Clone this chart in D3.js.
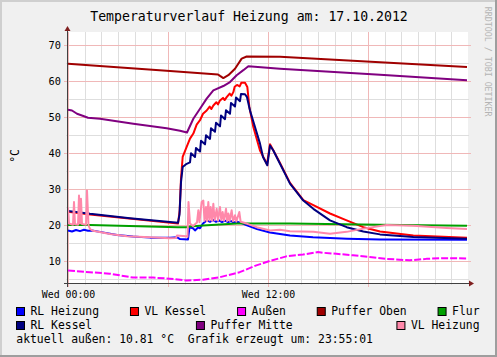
<!DOCTYPE html>
<html><head><meta charset="utf-8">
<script src="https://cdn.jsdelivr.net/npm/d3@7"></script>
<style>html,body{margin:0;padding:0;background:#f0f0f0;}svg{display:block;}text{font-family:"DejaVu Sans Mono",monospace;}</style>
</head><body>
<svg id="c" width="497" height="357"></svg>
<script>
// ---------- data ----------
const chartTitle = "Temperaturverlauf Heizung am: 17.10.2012";
const unitLabel = "°C";
const watermark = "RRDTOOL / TOBI OETIKER";
const yMajorTicks = [10, 20, 30, 40, 50, 60, 70];
const yMinorTicks = [5, 15, 25, 35, 45, 55, 65];
const xLabelHours = [0, 12];
const xLabelTexts = ["Wed 00:00", "Wed 12:00"];
const aussenAktuell = "10.81";
const erzeugtUm = "23:55:01";

const seriesNames = ["RL Heizung", "VL Kessel", "Außen", "Puffer Oben", "Flur", "RL Kessel", "Puffer Mitte", "VL Heizung"];
const seriesColors = ["#0000FF", "#FF0000", "#FF00FF", "#A00000", "#00A000", "#000080", "#800080", "#FF88AA"];

// [hour, °C]
const rlHeizung = [[0,18.6],[0.24,18.3],[0.48,18.7],[0.72,18.4],[0.96,18.8],[1.2,18.5],[1.44,18.6],[1.92,18.2],[2.94,17.3],[3.9,16.9],[4.92,16.6],[6.12,16.6],[6.54,16.7],[6.72,16.2],[7.2,16.1],[7.29,19.5],[7.5,19.2],[7.62,18.6],[7.8,19.4],[7.92,19.2],[8.1,20.5],[8.34,21.4],[8.52,21.0],[8.7,21.5],[8.88,21.0],[9.06,21.4],[9.24,20.9],[9.42,21.3],[9.6,20.9],[9.78,21.2],[9.96,20.8],[10.14,21.0],[10.44,20.6],[10.74,20.0],[11.34,19.0],[12.12,18.0],[13.32,17.2],[14.7,16.7],[16.74,16.3],[18.72,16.1],[23.94,16.0]];
const vlKessel = [[0,23.8],[1.32,23.0],[6.6,20.5],[6.7,24],[6.78,33],[6.88,39.0],[7.12,41.8],[7.32,44.1],[7.52,45.5],[7.72,48.0],[7.92,49.2],[8.1,51.0],[8.32,51.9],[8.5,53.0],[8.6,52.3],[8.72,53.3],[8.9,54.2],[9.0,53.6],[9.12,54.7],[9.3,55.4],[9.4,54.8],[9.52,55.6],[9.7,56.6],[9.8,56.0],[9.92,57.0],[10.0,58.5],[10.14,59.0],[10.3,58.6],[10.4,59.6],[10.62,59.6],[10.76,58.4],[10.88,52.9],[11.12,47.3],[11.52,40.8],[11.82,38.1],[11.94,36.9],[12.12,42.5],[12.3,41.0],[12.72,37.3],[13.32,31.8],[14.12,27.0],[14.72,25.6],[15.72,23.3],[16.72,21.4],[17.72,19.5],[18.72,18.3],[20.72,17.2],[23.94,16.6]];
const aussen = [[0,7.5],[1.3,7.0],[2.5,6.6],[3.9,5.5],[5.1,5.5],[6.1,5.2],[7.1,4.7],[8.1,4.9],[9.1,5.6],[10.3,7.0],[11.3,8.9],[12.1,10.1],[13.1,11.4],[14.1,11.9],[15.0,12.6],[15.3,12.4],[16.1,12.1],[17.1,11.7],[18.1,11.2],[19.1,10.7],[20.5,10.3],[21.5,10.7],[22.5,10.9],[23.94,10.81]];
const pufferOben = [[0,64.9],[6.12,62.9],[9.0,61.9],[9.12,61.5],[9.32,60.9],[9.62,61.7],[10.02,63.5],[10.42,66.3],[10.72,66.9],[12.72,66.8],[18.72,65.3],[23.94,64.0]];
const flur = [[0,20.1],[1.32,20.1],[6.6,19.5],[7.1,19.5],[7.32,19.7],[8.1,20.0],[10.14,20.5],[13.32,20.5],[18.72,20.2],[23.94,19.9]];
const rlKessel = [[0,24.0],[1.32,23.2],[3.72,22.0],[6.6,20.7],[6.69,23],[6.78,32],[6.88,36.2],[7.12,37.1],[7.32,37.5],[7.38,40.0],[7.62,39.0],[7.68,41.5],[7.92,40.5],[7.98,43.5],[8.22,42.5],[8.28,45.0],[8.52,44.0],[8.58,47.0],[8.82,46.0],[8.88,48.5],[9.12,47.5],[9.18,50.5],[9.42,49.5],[9.48,52.0],[9.72,51.0],[9.78,54.0],[10.02,53.0],[10.08,55.5],[10.32,54.5],[10.38,56.5],[10.62,56.4],[10.74,55.6],[10.92,51.9],[11.22,47.3],[11.52,42.7],[11.7,39.0],[11.96,36.7],[12.12,42.2],[12.32,40.8],[12.72,37.1],[13.32,31.6],[14.12,26.9],[14.72,24.6],[15.72,21.4],[16.72,19.5],[17.72,18.3],[18.72,17.5],[20.72,16.8],[23.94,16.3]];
const pufferMitte = [[0,52.1],[0.24,51.9],[0.54,51.0],[0.96,50.3],[1.2,49.9],[1.92,49.6],[3.92,48.2],[5.92,47.0],[6.72,46.3],[7.14,45.8],[7.52,49.6],[7.92,52.4],[8.32,55.2],[8.72,57.5],[9.32,58.7],[9.72,59.8],[10.12,61.7],[10.52,63.1],[10.82,64.2],[12.72,63.5],[18.72,61.8],[23.94,60.3]];
const vlHeizung = [[0,25.0],[0.06,20.5],[0.3,20.2],[0.36,26.5],[0.42,20.3],[0.6,20.2],[0.66,28.3],[0.72,20.5],[0.78,27.4],[0.84,20.4],[1.08,20.2],[1.14,29.7],[1.23,20.0],[1.32,19.0],[1.5,18.5],[2.52,17.6],[3.54,17.0],[4.92,16.7],[6.12,16.4],[6.48,16.5],[6.54,17.2],[7.08,17.0],[7.17,16.8],[7.23,26.5],[7.32,20.5],[7.5,19.8],[7.74,20.8],[7.82,24.2],[7.89,20.9],[8.02,26.5],[8.12,26.9],[8.19,21.3],[8.28,25.1],[8.34,21.2],[8.42,26.5],[8.49,21.4],[8.56,25.1],[8.64,21.3],[8.72,26.0],[8.8,21.4],[8.92,24.6],[9.0,21.3],[9.12,25.1],[9.2,21.4],[9.28,23.7],[9.36,21.3],[9.48,24.6],[9.55,21.2],[9.62,23.3],[9.7,21.3],[9.82,24.2],[9.9,21.2],[10.02,22.8],[10.1,21.1],[10.28,23.7],[10.36,21.0],[10.72,20.5],[11.32,19.5],[12.12,18.6],[12.72,18.8],[13.32,18.4],[14.72,18.2],[15.72,17.7],[16.72,18.2],[17.72,19.1],[19.12,20.1],[20.72,19.9],[22.72,19.3],[23.94,19.0]];

const seriesData = [rlHeizung, vlKessel, aussen, pufferOben, flur, rlKessel, pufferMitte, vlHeizung];
const legendRows = [[0,1,2,3,4],[5,6,7]];

// ---------- drawing ----------
const W = 497, H = 357;
const svg = d3.select("#c");
const x = d3.scaleLinear().domain([0, 24]).range([68, 468]);
const y = d3.scaleLinear().domain([4.0, 73.7]).range([283, 32]);

svg.append("rect").attr("width", W).attr("height", H).attr("fill", "#f0f0f0");
// shading frame
svg.append("path").attr("d", `M0,${H} V0 H${W}`).attr("fill","none").attr("stroke","#cfcfcf").attr("stroke-width",4);
svg.append("path").attr("d", `M${W},0 V${H} H0`).attr("fill","none").attr("stroke","#9e9e9e").attr("stroke-width",4);
// canvas
svg.append("rect").attr("x", x(0)).attr("y", y.range()[1]).attr("width", x(24) - x(0)).attr("height", y.range()[0] - y.range()[1]).attr("fill", "#fff");

const grid = svg.append("g").attr("shape-rendering", "crispEdges");
const hours = d3.range(0, 25);
grid.selectAll(".vmin").data(hours.filter(h => h % 6 !== 0 && h < 24)).join("line")
  .attr("x1", d => Math.round(x(d)) + 0.5).attr("x2", d => Math.round(x(d)) + 0.5)
  .attr("y1", y.range()[1]).attr("y2", y.range()[0] + 2).attr("stroke", "#dedede");
grid.selectAll(".hmin").data(yMinorTicks).join("line")
  .attr("x1", x(0) - 2).attr("x2", x(24) + 1)
  .attr("y1", d => Math.round(y(d)) + 0.5).attr("y2", d => Math.round(y(d)) + 0.5).attr("stroke", "#dedede");
grid.selectAll(".vmaj").data(hours.filter(h => h % 6 === 0 && h < 24)).join("line")
  .attr("x1", d => Math.round(x(d)) + 0.5).attr("x2", d => Math.round(x(d)) + 0.5)
  .attr("y1", y.range()[1]).attr("y2", y.range()[0] + 4).attr("stroke", "#f0b8b8");
grid.selectAll(".hmaj").data(yMajorTicks).join("line")
  .attr("x1", x(0) - 4).attr("x2", x(24) + 3)
  .attr("y1", d => Math.round(y(d)) + 0.5).attr("y2", d => Math.round(y(d)) + 0.5).attr("stroke", "#f0b8b8");

// y axis labels
const yAxis = d3.axisLeft(y).tickValues(yMajorTicks).tickSize(0).tickPadding(7);
const gy = svg.append("g").attr("transform", `translate(${x(0)},0)`).call(yAxis);
gy.select(".domain").remove();
gy.selectAll("text").attr("font-family", '"DejaVu Sans Mono", monospace').attr("font-size", 10.3).attr("fill", "#000");

// x axis labels
const xAxis = d3.axisBottom(x).tickValues(xLabelHours).tickFormat((d, i) => xLabelTexts[i]).tickSize(0).tickPadding(8);
const gx = svg.append("g").attr("transform", `translate(0,${y.range()[0]})`).call(xAxis);
gx.select(".domain").remove();
gx.selectAll("text").attr("font-family", '"DejaVu Sans Mono", monospace').attr("font-size", 9.9).attr("fill", "#000");

// data lines
const line = d3.line().x(d => x(d[0])).y(d => y(d[1]));
seriesData.forEach((s, i) => {
  svg.append("path").datum(s).attr("d", line).attr("fill", "none")
    .attr("stroke", seriesColors[i]).attr("stroke-width", 2).attr("stroke-linejoin", "round")
    .attr("stroke-dasharray", seriesNames[i] === "Außen" ? "7,2" : null);
});

// axes lines + arrows
const axisG = svg.append("g");
axisG.append("line").attr("x1", x(0) - 0.5).attr("x2", x(0) - 0.5).attr("y1", y.range()[0] + 4).attr("y2", y.range()[1] - 3)
  .attr("stroke", "#404040").attr("shape-rendering", "crispEdges");
axisG.append("line").attr("x1", x(0) - 4).attr("x2", x(24) + 2).attr("y1", y.range()[0] + 0.5).attr("y2", y.range()[0] + 0.5)
  .attr("stroke", "#404040").attr("shape-rendering", "crispEdges");
axisG.append("path").attr("d", `M${x(0)-3.5},${y.range()[1]-1} L${x(0)+2.5},${y.range()[1]-1} L${x(0)-0.5},${y.range()[1]-6} Z`).attr("fill", "#7f1f1f");
axisG.append("path").attr("d", `M${x(24)+1},${y.range()[0]-2.5} L${x(24)+1},${y.range()[0]+3.5} L${x(24)+6},${y.range()[0]+0.5} Z`).attr("fill", "#7f1f1f");

// title
svg.append("text").attr("x", 249).attr("y", 21).attr("text-anchor", "middle")
  .attr("font-size", 13.2).attr("fill", "#000").text(chartTitle);
// unit
svg.append("text").attr("transform", "translate(18.5,156) rotate(-90)").attr("text-anchor", "middle")
  .attr("font-size", 11.4).attr("fill", "#000").text(unitLabel);
// watermark
svg.append("text").attr("transform", "translate(484.5,6.7) rotate(90)").attr("text-anchor", "start")
  .attr("font-size", 8.3).attr("fill", "#b4b4b4").text(watermark);

// legend
const legendLeft = 16.5, legendRight = 479.5;
const rowBaselines = [315, 329];
const fontLegend = 11.4;
legendRows.forEach((row, r) => {
  const g = svg.append("g");
  const items = row.map(i => {
    const t = g.append("text").attr("font-size", fontLegend).attr("fill", "#000").attr("y", rowBaselines[r]).text(seriesNames[i]);
    const w = t.node().getComputedTextLength();
    return {i, t, w: 14 + w};
  });
  const total = d3.sum(items, d => d.w);
  const gap = (legendRight - legendLeft - total) / (items.length - 1);
  let cx = legendLeft;
  items.forEach(it => {
    g.append("rect").attr("x", cx).attr("y", rowBaselines[r] - 7.5).attr("width", 8).attr("height", 8)
      .attr("fill", seriesColors[it.i]).attr("stroke", "#000").attr("stroke-width", 1);
    it.t.attr("x", cx + 14);
    cx += it.w + gap;
  });
});
svg.append("text").attr("x", 16.3).attr("y", 343).attr("font-size", fontLegend).attr("fill", "#000")
  .style("white-space", "pre").text(`aktuell außen: ${aussenAktuell} °C  Grafik erzeugt um: ${erzeugtUm}`);
</script>
</body></html>
